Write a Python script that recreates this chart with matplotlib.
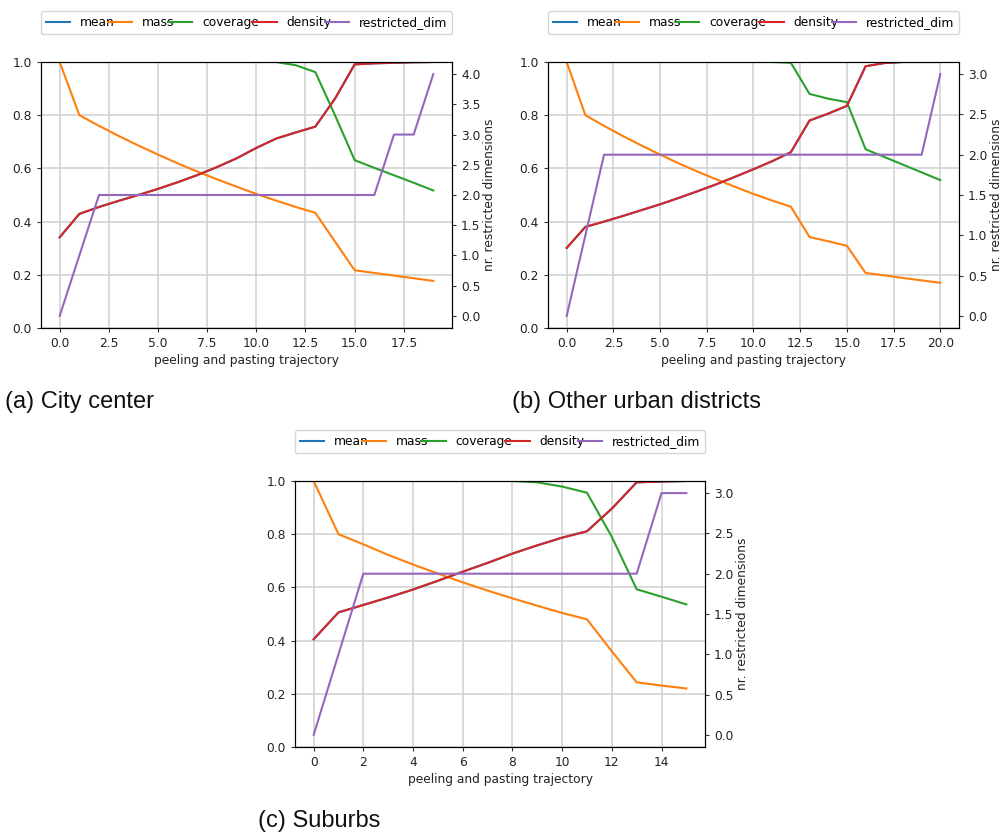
import matplotlib
matplotlib.use("Agg")
import matplotlib.pyplot as plt

# ---------------- data ----------------
# (a) City center
x_a = list(range(20))
mass_a = [1.0, 0.80, 0.76, 0.722, 0.686, 0.652, 0.619, 0.588, 0.559, 0.531,
          0.504, 0.479, 0.455, 0.433, 0.325, 0.217, 0.207, 0.197, 0.187, 0.177]
coverage_a = [1.0, 1.0, 1.0, 1.0, 1.0, 1.0, 1.0, 1.0, 1.0, 1.0,
              1.0, 1.0, 0.988, 0.962, 0.80, 0.631, 0.602, 0.574, 0.546, 0.517]
density_a = [0.341, 0.429, 0.455, 0.478, 0.500, 0.523, 0.548, 0.575, 0.605, 0.638,
             0.677, 0.712, 0.735, 0.757, 0.862, 0.991, 0.995, 0.997, 0.999, 1.0]
mean_a = density_a
dims_a = [0, 1, 2, 2, 2, 2, 2, 2, 2, 2, 2, 2, 2, 2, 2, 2, 2, 3, 3, 4]

# (b) Other urban districts
x_b = list(range(21))
mass_b = [1.0, 0.80, 0.76, 0.722, 0.686, 0.652, 0.619, 0.588, 0.559, 0.531,
          0.504, 0.479, 0.456, 0.342, 0.326, 0.309, 0.207, 0.198, 0.188, 0.179, 0.170]
coverage_b = [1.0, 1.0, 1.0, 1.0, 1.0, 1.0, 1.0, 1.0, 1.0, 1.0,
              1.0, 1.0, 0.997, 0.880, 0.862, 0.849, 0.672, 0.643, 0.614, 0.585, 0.556]
density_b = [0.301, 0.380, 0.400, 0.421, 0.443, 0.465, 0.489, 0.514, 0.540, 0.568,
             0.597, 0.627, 0.661, 0.780, 0.806, 0.835, 0.984, 0.996, 1.0, 1.0, 1.0]
mean_b = density_b
dims_b = [0, 1, 2, 2, 2, 2, 2, 2, 2, 2, 2, 2, 2, 2, 2, 2, 2, 2, 2, 2, 3]

# (c) Suburbs
x_c = list(range(16))
mass_c = [1.0, 0.80, 0.762, 0.722, 0.686, 0.652, 0.619, 0.588, 0.559, 0.531,
          0.504, 0.480, 0.360, 0.243, 0.231, 0.220]
coverage_c = [1.0, 1.0, 1.0, 1.0, 1.0, 1.0, 1.0, 1.0, 1.0, 0.995,
              0.979, 0.956, 0.79, 0.593, 0.565, 0.536]
density_c = [0.405, 0.506, 0.534, 0.562, 0.592, 0.625, 0.659, 0.692, 0.727, 0.758,
             0.787, 0.811, 0.896, 0.995, 0.998, 1.0]
mean_c = density_c
dims_c = [0, 1, 2, 2, 2, 2, 2, 2, 2, 2, 2, 2, 2, 2, 3, 3]

series_names = ["mean", "mass", "coverage", "density", "restricted_dim"]
captions = ["(a) City center", "(b) Other urban districts", "(c) Suburbs"]
xlabel = "peeling and pasting trajectory"
ylabel_right = "nr. restricted dimensions"

# ---------------- layout ----------------
W, H = 1004, 834
fig = plt.figure(figsize=(W / 100, H / 100), dpi=100)

FS = 8.8
plt.rcParams["font.size"] = FS


def px_axes(left, top, right, bottom):
    return fig.add_axes([left / W, 1 - bottom / H, (right - left) / W, (bottom - top) / H])


def panel(ax, x, mean, mass, cov, dens, dims, xticks):
    lw = 1.5
    h = []
    h += ax.plot(x, mean, color="C0", lw=lw)
    h += ax.plot(x, mass, color="C1", lw=lw)
    h += ax.plot(x, cov, color="C2", lw=lw)
    h += ax.plot(x, dens, color="C3", lw=lw)
    ax.set_ylim(0, 1)
    ax.set_yticks([0.0, 0.2, 0.4, 0.6, 0.8, 1.0])
    ax.set_xticks(xticks)
    ax.grid(True, color="#cfcfcf", lw=1.1)
    ax.set_xlabel(xlabel, fontsize=FS, labelpad=3, color="#222222")
    ax.tick_params(labelsize=FS, length=3, color="#333333", labelcolor="#222222")
    ax2 = ax.twinx()
    h += ax2.plot(x, dims, color="C4", lw=lw)
    ax2.set_ylabel(ylabel_right, fontsize=FS, color="#222222", labelpad=1.5)
    ax2.tick_params(labelsize=FS, length=3, color="#333333", labelcolor="#222222")
    ax.legend(h, series_names, bbox_to_anchor=(0, 1.105, 1, 0.1), loc="lower left",
              ncol=5, mode="expand", borderaxespad=0, fontsize=FS,
              frameon=True, fancybox=True, framealpha=0.8, edgecolor="#cccccc")
    return ax2


ax_a = px_axes(41, 62, 452, 328)
ax_a2 = panel(ax_a, x_a, mean_a, mass_a, coverage_a, density_a, dims_a,
              [0, 2.5, 5, 7.5, 10, 12.5, 15, 17.5])
ax_a.set_xticklabels(["0.0", "2.5", "5.0", "7.5", "10.0", "12.5", "15.0", "17.5"])

ax_b = px_axes(548, 62, 959, 328)
ax_b2 = panel(ax_b, x_b, mean_b, mass_b, coverage_b, density_b, dims_b,
              [0, 2.5, 5, 7.5, 10, 12.5, 15, 17.5, 20])
ax_b.set_xticklabels(["0.0", "2.5", "5.0", "7.5", "10.0", "12.5", "15.0", "17.5", "20.0"])

ax_c = px_axes(295, 481, 705, 747)
ax_c2 = panel(ax_c, x_c, mean_c, mass_c, coverage_c, density_c, dims_c,
              [0, 2, 4, 6, 8, 10, 12, 14])

cap_font = dict(family=["Liberation Sans", "DejaVu Sans"], fontsize=17, color="#111111",
                va="center", ha="left")
fig.text(5 / W, 1 - 402 / H, captions[0], **cap_font)
fig.text(512 / W, 1 - 402 / H, captions[1], **cap_font)
fig.text(258 / W, 1 - 821 / H, captions[2], **cap_font)

fig.savefig("out.png", dpi=100)
